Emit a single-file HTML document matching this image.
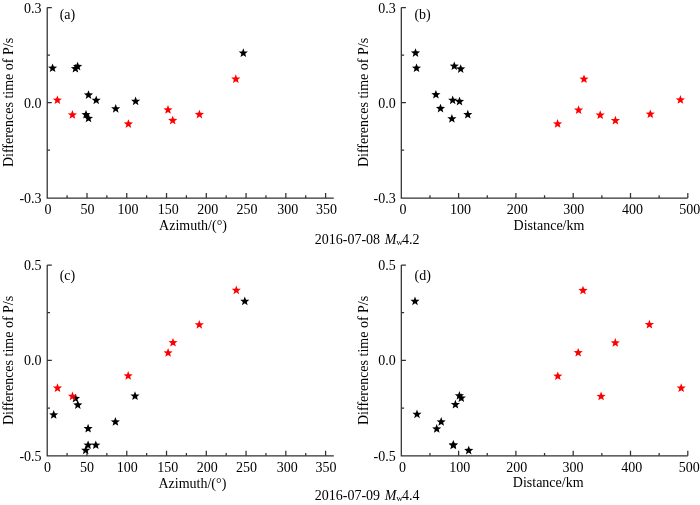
<!DOCTYPE html>
<html><head><meta charset="utf-8"><style>
html,body{margin:0;padding:0;background:#fff;}
body{width:700px;height:505px;overflow:hidden;}
svg{display:block;will-change:transform;}
text{font-family:"Liberation Serif",serif;font-size:14px;fill:#000;}
</style></head><body>
<svg width="700" height="505" viewBox="0 0 700 505">
<rect width="700" height="505" fill="#fff"/>
<path d="M47.22,7.5V198.1H333.8" fill="none" stroke="#303030" stroke-width="1.25"/>
<path d="M67.10,198.1v-2.8M86.99,198.1v-5M106.87,198.1v-2.8M126.76,198.1v-5M146.64,198.1v-2.8M166.53,198.1v-5M186.41,198.1v-2.8M206.29,198.1v-5M226.18,198.1v-2.8M246.06,198.1v-5M265.95,198.1v-2.8M285.83,198.1v-5M305.72,198.1v-2.8M325.60,198.1v-5M47.22,150.00h2.8M47.22,102.50h4.6M47.22,55.00h2.8M47.22,7.50h4.6" fill="none" stroke="#303030" stroke-width="1.25"/>
<text x="48.02" y="214.40" text-anchor="middle">0</text>
<text x="87.49" y="214.40" text-anchor="middle">50</text>
<text x="127.96" y="214.40" text-anchor="middle">100</text>
<text x="168.33" y="214.40" text-anchor="middle">150</text>
<text x="207.79" y="214.40" text-anchor="middle">200</text>
<text x="247.06" y="214.40" text-anchor="middle">250</text>
<text x="287.83" y="214.40" text-anchor="middle">300</text>
<text x="326.60" y="214.40" text-anchor="middle">350</text>
<text x="41.62" y="12.60" text-anchor="end">0.3</text>
<text x="41.62" y="107.60" text-anchor="end">0.0</text>
<text x="41.62" y="202.60" text-anchor="end">-0.3</text>
<text x="59.70" y="18.80">(a)</text>
<path d="M401.31,7.5V198.1H687.8" fill="none" stroke="#303030" stroke-width="1.25"/>
<path d="M429.96,198.1v-2.8M458.61,198.1v-5M487.26,198.1v-2.8M515.91,198.1v-5M544.55,198.1v-2.8M573.20,198.1v-5M601.85,198.1v-2.8M630.50,198.1v-5M659.15,198.1v-2.8M687.80,198.1v-5M401.31,150.00h2.8M401.31,102.50h4.6M401.31,55.00h2.8M401.31,7.50h4.6" fill="none" stroke="#303030" stroke-width="1.25"/>
<text x="403.01" y="214.40" text-anchor="middle">0</text>
<text x="460.41" y="214.40" text-anchor="middle">100</text>
<text x="517.31" y="214.40" text-anchor="middle">200</text>
<text x="573.70" y="214.40" text-anchor="middle">300</text>
<text x="632.40" y="214.40" text-anchor="middle">400</text>
<text x="689.80" y="214.40" text-anchor="middle">500</text>
<text x="395.71" y="12.60" text-anchor="end">0.3</text>
<text x="395.71" y="107.60" text-anchor="end">0.0</text>
<text x="395.71" y="202.60" text-anchor="end">-0.3</text>
<text x="414.40" y="19.00">(b)</text>
<path d="M47.22,265.0V455.8H333.8" fill="none" stroke="#303030" stroke-width="1.25"/>
<path d="M67.10,455.8v-2.8M86.99,455.8v-5M106.87,455.8v-2.8M126.76,455.8v-5M146.64,455.8v-2.8M166.53,455.8v-5M186.41,455.8v-2.8M206.29,455.8v-5M226.18,455.8v-2.8M246.06,455.8v-5M265.95,455.8v-2.8M285.83,455.8v-5M305.72,455.8v-2.8M325.60,455.8v-5M47.22,408.03h2.8M47.22,360.35h4.6M47.22,312.68h2.8M47.22,265.00h4.6" fill="none" stroke="#303030" stroke-width="1.25"/>
<text x="47.42" y="471.60" text-anchor="middle">0</text>
<text x="86.89" y="471.60" text-anchor="middle">50</text>
<text x="127.36" y="471.60" text-anchor="middle">100</text>
<text x="167.73" y="471.60" text-anchor="middle">150</text>
<text x="207.19" y="471.60" text-anchor="middle">200</text>
<text x="246.46" y="471.60" text-anchor="middle">250</text>
<text x="287.23" y="471.60" text-anchor="middle">300</text>
<text x="326.00" y="471.60" text-anchor="middle">350</text>
<text x="41.62" y="270.10" text-anchor="end">0.5</text>
<text x="41.62" y="365.45" text-anchor="end">0.0</text>
<text x="41.62" y="460.80" text-anchor="end">-0.5</text>
<text x="59.70" y="279.70">(c)</text>
<path d="M401.31,265.0V455.8H687.8" fill="none" stroke="#303030" stroke-width="1.25"/>
<path d="M429.96,455.8v-2.8M458.61,455.8v-5M487.26,455.8v-2.8M515.91,455.8v-5M544.55,455.8v-2.8M573.20,455.8v-5M601.85,455.8v-2.8M630.50,455.8v-5M659.15,455.8v-2.8M687.80,455.8v-5M401.31,408.03h2.8M401.31,360.35h4.6M401.31,312.68h2.8M401.31,265.00h4.6" fill="none" stroke="#303030" stroke-width="1.25"/>
<text x="402.41" y="471.60" text-anchor="middle">0</text>
<text x="459.81" y="471.60" text-anchor="middle">100</text>
<text x="516.71" y="471.60" text-anchor="middle">200</text>
<text x="573.10" y="471.60" text-anchor="middle">300</text>
<text x="631.80" y="471.60" text-anchor="middle">400</text>
<text x="689.20" y="471.60" text-anchor="middle">500</text>
<text x="395.71" y="270.10" text-anchor="end">0.5</text>
<text x="395.71" y="365.45" text-anchor="end">0.0</text>
<text x="395.71" y="460.80" text-anchor="end">-0.5</text>
<text x="414.60" y="279.70">(d)</text>
<text x="193.00" y="230.30" text-anchor="middle">Azimuth/(°)</text>
<text x="549.00" y="229.90" text-anchor="middle">Distance/km</text>
<text x="192.40" y="487.60" text-anchor="middle">Azimuth/(°)</text>
<text x="548.20" y="487.00" text-anchor="middle">Distance/km</text>
<text transform="translate(13.10,102.50) rotate(-90)" text-anchor="middle">Differences time of P/s</text>
<text transform="translate(368.00,102.50) rotate(-90)" text-anchor="middle">Differences time of P/s</text>
<text transform="translate(13.10,360.40) rotate(-90)" text-anchor="middle">Differences time of P/s</text>
<text transform="translate(368.00,360.40) rotate(-90)" text-anchor="middle">Differences time of P/s</text>
<polygon points="52.60,63.40 53.81,66.53 57.17,66.72 54.56,68.84 55.42,72.08 52.60,70.26 49.78,72.08 50.64,68.84 48.03,66.72 51.39,66.53" fill="#000"/>
<polygon points="75.40,63.90 76.61,67.03 79.97,67.22 77.36,69.34 78.22,72.58 75.40,70.76 72.58,72.58 73.44,69.34 70.83,67.22 74.19,67.03" fill="#000"/>
<polygon points="77.60,61.70 78.81,64.83 82.17,65.02 79.56,67.14 80.42,70.38 77.60,68.56 74.78,70.38 75.64,67.14 73.03,65.02 76.39,64.83" fill="#000"/>
<polygon points="88.50,90.20 89.71,93.33 93.07,93.52 90.46,95.64 91.32,98.88 88.50,97.06 85.68,98.88 86.54,95.64 83.93,93.52 87.29,93.33" fill="#000"/>
<polygon points="96.20,95.50 97.41,98.63 100.77,98.82 98.16,100.94 99.02,104.18 96.20,102.36 93.38,104.18 94.24,100.94 91.63,98.82 94.99,98.63" fill="#000"/>
<polygon points="86.00,109.90 87.21,113.03 90.57,113.22 87.96,115.34 88.82,118.58 86.00,116.76 83.18,118.58 84.04,115.34 81.43,113.22 84.79,113.03" fill="#000"/>
<polygon points="88.50,113.60 89.71,116.73 93.07,116.92 90.46,119.04 91.32,122.28 88.50,120.46 85.68,122.28 86.54,119.04 83.93,116.92 87.29,116.73" fill="#000"/>
<polygon points="115.70,104.00 116.91,107.13 120.27,107.32 117.66,109.44 118.52,112.68 115.70,110.86 112.88,112.68 113.74,109.44 111.13,107.32 114.49,107.13" fill="#000"/>
<polygon points="135.60,96.50 136.81,99.63 140.17,99.82 137.56,101.94 138.42,105.18 135.60,103.36 132.78,105.18 133.64,101.94 131.03,99.82 134.39,99.63" fill="#000"/>
<polygon points="243.30,48.30 244.51,51.43 247.87,51.62 245.26,53.74 246.12,56.98 243.30,55.16 240.48,56.98 241.34,53.74 238.73,51.62 242.09,51.43" fill="#000"/>
<polygon points="57.40,95.40 58.61,98.53 61.97,98.72 59.36,100.84 60.22,104.08 57.40,102.26 54.58,104.08 55.44,100.84 52.83,98.72 56.19,98.53" fill="#ff0000"/>
<polygon points="72.40,110.10 73.61,113.23 76.97,113.42 74.36,115.54 75.22,118.78 72.40,116.96 69.58,118.78 70.44,115.54 67.83,113.42 71.19,113.23" fill="#ff0000"/>
<polygon points="128.40,119.20 129.61,122.33 132.97,122.52 130.36,124.64 131.22,127.88 128.40,126.06 125.58,127.88 126.44,124.64 123.83,122.52 127.19,122.33" fill="#ff0000"/>
<polygon points="168.00,105.10 169.21,108.23 172.57,108.42 169.96,110.54 170.82,113.78 168.00,111.96 165.18,113.78 166.04,110.54 163.43,108.42 166.79,108.23" fill="#ff0000"/>
<polygon points="172.70,115.70 173.91,118.83 177.27,119.02 174.66,121.14 175.52,124.38 172.70,122.56 169.88,124.38 170.74,121.14 168.13,119.02 171.49,118.83" fill="#ff0000"/>
<polygon points="199.40,109.70 200.61,112.83 203.97,113.02 201.36,115.14 202.22,118.38 199.40,116.56 196.58,118.38 197.44,115.14 194.83,113.02 198.19,112.83" fill="#ff0000"/>
<polygon points="235.80,74.30 237.01,77.43 240.37,77.62 237.76,79.74 238.62,82.98 235.80,81.16 232.98,82.98 233.84,79.74 231.23,77.62 234.59,77.43" fill="#ff0000"/>
<polygon points="415.50,48.20 416.71,51.33 420.07,51.52 417.46,53.64 418.32,56.88 415.50,55.06 412.68,56.88 413.54,53.64 410.93,51.52 414.29,51.33" fill="#000"/>
<polygon points="416.50,63.40 417.71,66.53 421.07,66.72 418.46,68.84 419.32,72.08 416.50,70.26 413.68,72.08 414.54,68.84 411.93,66.72 415.29,66.53" fill="#000"/>
<polygon points="454.30,61.40 455.51,64.53 458.87,64.72 456.26,66.84 457.12,70.08 454.30,68.26 451.48,70.08 452.34,66.84 449.73,64.72 453.09,64.53" fill="#000"/>
<polygon points="460.70,64.20 461.91,67.33 465.27,67.52 462.66,69.64 463.52,72.88 460.70,71.06 457.88,72.88 458.74,69.64 456.13,67.52 459.49,67.33" fill="#000"/>
<polygon points="435.90,89.90 437.11,93.03 440.47,93.22 437.86,95.34 438.72,98.58 435.90,96.76 433.08,98.58 433.94,95.34 431.33,93.22 434.69,93.03" fill="#000"/>
<polygon points="452.70,95.50 453.91,98.63 457.27,98.82 454.66,100.94 455.52,104.18 452.70,102.36 449.88,104.18 450.74,100.94 448.13,98.82 451.49,98.63" fill="#000"/>
<polygon points="459.50,96.70 460.71,99.83 464.07,100.02 461.46,102.14 462.32,105.38 459.50,103.56 456.68,105.38 457.54,102.14 454.93,100.02 458.29,99.83" fill="#000"/>
<polygon points="440.50,103.70 441.71,106.83 445.07,107.02 442.46,109.14 443.32,112.38 440.50,110.56 437.68,112.38 438.54,109.14 435.93,107.02 439.29,106.83" fill="#000"/>
<polygon points="451.90,114.00 453.11,117.13 456.47,117.32 453.86,119.44 454.72,122.68 451.90,120.86 449.08,122.68 449.94,119.44 447.33,117.32 450.69,117.13" fill="#000"/>
<polygon points="467.80,109.80 469.01,112.93 472.37,113.12 469.76,115.24 470.62,118.48 467.80,116.66 464.98,118.48 465.84,115.24 463.23,113.12 466.59,112.93" fill="#000"/>
<polygon points="584.00,74.40 585.21,77.53 588.57,77.72 585.96,79.84 586.82,83.08 584.00,81.26 581.18,83.08 582.04,79.84 579.43,77.72 582.79,77.53" fill="#ff0000"/>
<polygon points="578.60,105.30 579.81,108.43 583.17,108.62 580.56,110.74 581.42,113.98 578.60,112.16 575.78,113.98 576.64,110.74 574.03,108.62 577.39,108.43" fill="#ff0000"/>
<polygon points="600.20,110.30 601.41,113.43 604.77,113.62 602.16,115.74 603.02,118.98 600.20,117.16 597.38,118.98 598.24,115.74 595.63,113.62 598.99,113.43" fill="#ff0000"/>
<polygon points="557.60,119.10 558.81,122.23 562.17,122.42 559.56,124.54 560.42,127.78 557.60,125.96 554.78,127.78 555.64,124.54 553.03,122.42 556.39,122.23" fill="#ff0000"/>
<polygon points="615.40,115.80 616.61,118.93 619.97,119.12 617.36,121.24 618.22,124.48 615.40,122.66 612.58,124.48 613.44,121.24 610.83,119.12 614.19,118.93" fill="#ff0000"/>
<polygon points="650.30,109.40 651.51,112.53 654.87,112.72 652.26,114.84 653.12,118.08 650.30,116.26 647.48,118.08 648.34,114.84 645.73,112.72 649.09,112.53" fill="#ff0000"/>
<polygon points="680.40,95.10 681.61,98.23 684.97,98.42 682.36,100.54 683.22,103.78 680.40,101.96 677.58,103.78 678.44,100.54 675.83,98.42 679.19,98.23" fill="#ff0000"/>
<polygon points="75.50,393.70 76.71,396.83 80.07,397.02 77.46,399.14 78.32,402.38 75.50,400.56 72.68,402.38 73.54,399.14 70.93,397.02 74.29,396.83" fill="#000"/>
<polygon points="77.80,400.20 79.01,403.33 82.37,403.52 79.76,405.64 80.62,408.88 77.80,407.06 74.98,408.88 75.84,405.64 73.23,403.52 76.59,403.33" fill="#000"/>
<polygon points="53.70,410.10 54.91,413.23 58.27,413.42 55.66,415.54 56.52,418.78 53.70,416.96 50.88,418.78 51.74,415.54 49.13,413.42 52.49,413.23" fill="#000"/>
<polygon points="135.00,391.30 136.21,394.43 139.57,394.62 136.96,396.74 137.82,399.98 135.00,398.16 132.18,399.98 133.04,396.74 130.43,394.62 133.79,394.43" fill="#000"/>
<polygon points="115.40,417.10 116.61,420.23 119.97,420.42 117.36,422.54 118.22,425.78 115.40,423.96 112.58,425.78 113.44,422.54 110.83,420.42 114.19,420.23" fill="#000"/>
<polygon points="88.10,423.80 89.31,426.93 92.67,427.12 90.06,429.24 90.92,432.48 88.10,430.66 85.28,432.48 86.14,429.24 83.53,427.12 86.89,426.93" fill="#000"/>
<polygon points="88.10,440.40 89.31,443.53 92.67,443.72 90.06,445.84 90.92,449.08 88.10,447.26 85.28,449.08 86.14,445.84 83.53,443.72 86.89,443.53" fill="#000"/>
<polygon points="95.80,440.40 97.01,443.53 100.37,443.72 97.76,445.84 98.62,449.08 95.80,447.26 92.98,449.08 93.84,445.84 91.23,443.72 94.59,443.53" fill="#000"/>
<polygon points="85.70,445.50 86.91,448.63 90.27,448.82 87.66,450.94 88.52,454.18 85.70,452.36 82.88,454.18 83.74,450.94 81.13,448.82 84.49,448.63" fill="#000"/>
<polygon points="244.80,296.50 246.01,299.63 249.37,299.82 246.76,301.94 247.62,305.18 244.80,303.36 241.98,305.18 242.84,301.94 240.23,299.82 243.59,299.63" fill="#000"/>
<polygon points="57.50,383.30 58.71,386.43 62.07,386.62 59.46,388.74 60.32,391.98 57.50,390.16 54.68,391.98 55.54,388.74 52.93,386.62 56.29,386.43" fill="#ff0000"/>
<polygon points="72.50,391.50 73.71,394.63 77.07,394.82 74.46,396.94 75.32,400.18 72.50,398.36 69.68,400.18 70.54,396.94 67.93,394.82 71.29,394.63" fill="#ff0000"/>
<polygon points="128.20,371.10 129.41,374.23 132.77,374.42 130.16,376.54 131.02,379.78 128.20,377.96 125.38,379.78 126.24,376.54 123.63,374.42 126.99,374.23" fill="#ff0000"/>
<polygon points="168.10,348.10 169.31,351.23 172.67,351.42 170.06,353.54 170.92,356.78 168.10,354.96 165.28,356.78 166.14,353.54 163.53,351.42 166.89,351.23" fill="#ff0000"/>
<polygon points="173.00,337.90 174.21,341.03 177.57,341.22 174.96,343.34 175.82,346.58 173.00,344.76 170.18,346.58 171.04,343.34 168.43,341.22 171.79,341.03" fill="#ff0000"/>
<polygon points="199.30,320.00 200.51,323.13 203.87,323.32 201.26,325.44 202.12,328.68 199.30,326.86 196.48,328.68 197.34,325.44 194.73,323.32 198.09,323.13" fill="#ff0000"/>
<polygon points="236.30,285.50 237.51,288.63 240.87,288.82 238.26,290.94 239.12,294.18 236.30,292.36 233.48,294.18 234.34,290.94 231.73,288.82 235.09,288.63" fill="#ff0000"/>
<polygon points="415.00,296.50 416.21,299.63 419.57,299.82 416.96,301.94 417.82,305.18 415.00,303.36 412.18,305.18 413.04,301.94 410.43,299.82 413.79,299.63" fill="#000"/>
<polygon points="417.00,409.50 418.21,412.63 421.57,412.82 418.96,414.94 419.82,418.18 417.00,416.36 414.18,418.18 415.04,414.94 412.43,412.82 415.79,412.63" fill="#000"/>
<polygon points="441.20,417.10 442.41,420.23 445.77,420.42 443.16,422.54 444.02,425.78 441.20,423.96 438.38,425.78 439.24,422.54 436.63,420.42 439.99,420.23" fill="#000"/>
<polygon points="436.70,424.10 437.91,427.23 441.27,427.42 438.66,429.54 439.52,432.78 436.70,430.96 433.88,432.78 434.74,429.54 432.13,427.42 435.49,427.23" fill="#000"/>
<polygon points="455.40,399.80 456.61,402.93 459.97,403.12 457.36,405.24 458.22,408.48 455.40,406.66 452.58,408.48 453.44,405.24 450.83,403.12 454.19,402.93" fill="#000"/>
<polygon points="459.40,391.00 460.61,394.13 463.97,394.32 461.36,396.44 462.22,399.68 459.40,397.86 456.58,399.68 457.44,396.44 454.83,394.32 458.19,394.13" fill="#000"/>
<polygon points="461.30,393.30 462.51,396.43 465.87,396.62 463.26,398.74 464.12,401.98 461.30,400.16 458.48,401.98 459.34,398.74 456.73,396.62 460.09,396.43" fill="#000"/>
<polygon points="453.40,440.10 454.61,443.23 457.97,443.42 455.36,445.54 456.22,448.78 453.40,446.96 450.58,448.78 451.44,445.54 448.83,443.42 452.19,443.23" fill="#000"/>
<polygon points="453.20,440.50 454.41,443.63 457.77,443.82 455.16,445.94 456.02,449.18 453.20,447.36 450.38,449.18 451.24,445.94 448.63,443.82 451.99,443.63" fill="#000"/>
<polygon points="468.70,445.70 469.91,448.83 473.27,449.02 470.66,451.14 471.52,454.38 468.70,452.56 465.88,454.38 466.74,451.14 464.13,449.02 467.49,448.83" fill="#000"/>
<polygon points="583.00,285.70 584.21,288.83 587.57,289.02 584.96,291.14 585.82,294.38 583.00,292.56 580.18,294.38 581.04,291.14 578.43,289.02 581.79,288.83" fill="#ff0000"/>
<polygon points="649.40,319.80 650.61,322.93 653.97,323.12 651.36,325.24 652.22,328.48 649.40,326.66 646.58,328.48 647.44,325.24 644.83,323.12 648.19,322.93" fill="#ff0000"/>
<polygon points="615.30,338.10 616.51,341.23 619.87,341.42 617.26,343.54 618.12,346.78 615.30,344.96 612.48,346.78 613.34,343.54 610.73,341.42 614.09,341.23" fill="#ff0000"/>
<polygon points="578.20,347.90 579.41,351.03 582.77,351.22 580.16,353.34 581.02,356.58 578.20,354.76 575.38,356.58 576.24,353.34 573.63,351.22 576.99,351.03" fill="#ff0000"/>
<polygon points="557.80,371.40 559.01,374.53 562.37,374.72 559.76,376.84 560.62,380.08 557.80,378.26 554.98,380.08 555.84,376.84 553.23,374.72 556.59,374.53" fill="#ff0000"/>
<polygon points="601.10,391.60 602.31,394.73 605.67,394.92 603.06,397.04 603.92,400.28 601.10,398.46 598.28,400.28 599.14,397.04 596.53,394.92 599.89,394.73" fill="#ff0000"/>
<polygon points="681.20,383.30 682.41,386.43 685.77,386.62 683.16,388.74 684.02,391.98 681.20,390.16 678.38,391.98 679.24,388.74 676.63,386.62 679.99,386.43" fill="#ff0000"/>
<text x="314.8" y="243.80">2016-07-08</text>
<text x="384.8" y="243.80" font-style="italic">M</text>
<text x="396.2" y="245.10" style="font-size:9px">w</text>
<text x="402.0" y="243.80">4.2</text>
<text x="314.8" y="499.80">2016-07-09</text>
<text x="384.8" y="499.80" font-style="italic">M</text>
<text x="396.2" y="501.10" style="font-size:9px">w</text>
<text x="402.0" y="499.80">4.4</text>
</svg>
</body></html>
